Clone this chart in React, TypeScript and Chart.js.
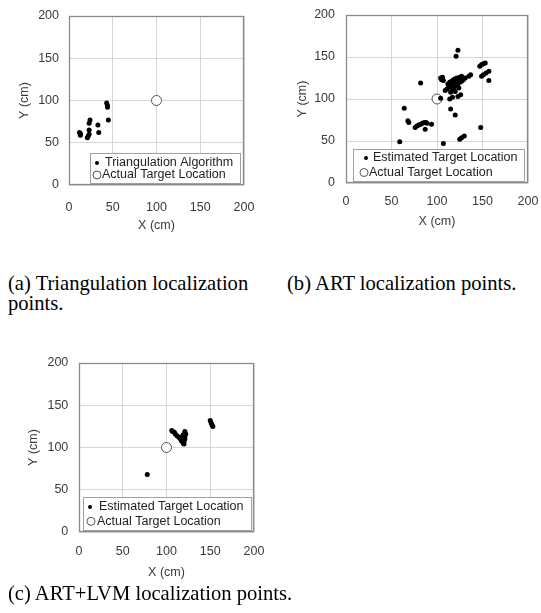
import React, { useEffect, useRef } from "react";
import { Chart, registerables } from "chart.js";
Chart.register(...registerables);

// ---------- data ----------
const AXIS_MIN = 0;
const AXIS_MAX = 200;
const AXIS_STEP = 50;
const X_TITLE = "X (cm)";
const Y_TITLE = "Y (cm)";

const LABEL_TRI = "Triangulation Algorithm";
const LABEL_EST = "Estimated Target Location";
const LABEL_ACTUAL = "Actual Target Location";

const ACTUAL_X = [100];
const ACTUAL_Y = [100];

// (a) triangulation
const A_X = [12, 13, 13, 21, 22, 23, 23, 23, 24, 33, 34, 43, 44, 44, 45];
const A_Y = [62, 61, 59, 56, 58, 60, 65, 73, 77, 71, 62, 97, 94, 92, 77];

// (b) ART
const B_X = [
  123, 121, 82, 64, 68, 69,
  76, 78, 80, 82, 84, 86, 88, 89, 87, 94, 59, 107,
  115, 120, 125, 127, 130, 148,
  147, 149, 151, 153, 149, 151, 154, 157, 157,
  104, 105, 106, 107,
  109, 111, 113, 115, 117, 119, 121, 123, 125, 127,
  112, 114, 116, 118, 120, 122,
  117, 119, 121, 123, 125, 127, 129, 131,
  115, 118, 120, 124, 122, 126, 135, 137,
  104, 114, 117, 123, 126,
];
const B_Y = [
  158, 151, 119, 89, 74, 72,
  66, 68, 69, 70, 71, 72, 72, 71, 64, 70, 49, 47,
  88, 81, 52, 54, 56, 66,
  139, 141, 142, 143, 127, 129, 131, 133, 122,
  125, 123, 126, 122,
  110, 112, 114, 116, 118, 120, 122, 124, 126, 127,
  118, 120, 121, 123, 124, 125,
  112, 114, 116, 118, 120, 121, 123, 125,
  108, 110, 109, 113, 120, 122, 127, 129,
  101, 100, 102, 103, 105,
];

// (c) ART+LVM
const C_X = [
  78, 150, 151, 152, 153,
  106, 107, 109, 110, 112, 114, 116, 117, 119,
  121, 122, 121, 121, 120, 120, 119, 118, 120,
];
const C_Y = [
  68, 132, 129, 127, 125,
  120, 119, 118, 116, 114, 112, 110, 108, 105,
  119, 116, 113, 110, 107, 104, 115, 113, 112,
];

const CAPTION_A = "(a) Triangulation localization points.";
const CAPTION_B = "(b) ART localization points.";
const CAPTION_C = "(c) ART+LVM localization points.";

// ---------- helpers ----------
const toPoints = (xs: number[], ys: number[]) => xs.map((x, i) => ({ x, y: ys[i] }));

const SANS = '"Liberation Sans", Arial, Helvetica, sans-serif';
const SERIF = '"Liberation Serif", "Times New Roman", Times, serif';
const TEXT_COLOR = "#3a3a3a";

const plotBorder = {
  id: "plotBorder",
  beforeDatasetsDraw(chart: any) {
    const { ctx, chartArea } = chart;
    ctx.save();
    ctx.strokeStyle = "#8a8a8a";
    ctx.lineWidth = 1.3;
    ctx.strokeRect(
      Math.round(chartArea.left) + 0.5,
      Math.round(chartArea.top) + 0.5,
      Math.round(chartArea.right - chartArea.left) - 1,
      Math.round(chartArea.bottom - chartArea.top) - 1
    );
    ctx.restore();
  },
};

const boxLegend = {
  id: "boxLegend",
  afterDatasetsDraw(chart: any, _args: any, opts: any) {
    const { ctx, chartArea } = chart;
    const left = Math.round(chartArea.left + opts.insetLeft);
    const right = Math.round(chartArea.right - opts.insetRight);
    const bottom = Math.round(chartArea.bottom) - 1;
    const top = Math.round(chartArea.bottom - opts.height);
    ctx.save();
    ctx.fillStyle = "#ffffff";
    ctx.fillRect(left, top, right - left, bottom - top);
    ctx.strokeStyle = "#a0a0a0";
    ctx.lineWidth = 1;
    ctx.strokeRect(left + 0.5, top + 0.5, right - left - 1, bottom - top - 1);
    ctx.font = `${opts.fontSize}px ${SANS}`;
    ctx.textBaseline = "middle";
    ctx.textAlign = "left";
    chart.data.datasets.forEach((ds: any, i: number) => {
      const y = top + opts.lineY[i];
      const mx = left + opts.markerX[i];
      ctx.beginPath();
      if (ds.legendMarker === "dot") {
        ctx.arc(mx, y, 2, 0, Math.PI * 2);
        ctx.fillStyle = "#000";
        ctx.fill();
      } else {
        ctx.arc(mx, y, 4, 0, Math.PI * 2);
        ctx.strokeStyle = "#555";
        ctx.lineWidth = 1;
        ctx.stroke();
      }
      ctx.fillStyle = "#222";
      ctx.fillText(ds.label, left + opts.textX[i], y);
    });
    ctx.restore();
  },
};

type Geo = {
  left: number;
  top: number;
  width: number;
  height: number;
  padTop: number;
  padRight: number;
  yAxisWidth: number;
  xAxisHeight: number;
  xTickPad: number;
  yTickPad: number;
  xTitlePad: number;
  yTitlePad: number;
};

type LegendGeo = {
  insetLeft: number;
  insetRight: number;
  height: number;
  lineY: number[];
  markerX: number[];
  textX: number[];
  fontSize: number;
};

function ScatterPanel(props: {
  geo: Geo;
  legend: LegendGeo;
  estLabel: string;
  estX: number[];
  estY: number[];
}) {
  const ref = useRef<HTMLCanvasElement | null>(null);
  const { geo, legend, estLabel, estX, estY } = props;

  useEffect(() => {
    if (!ref.current) return;
    const tickFont = { family: SANS, size: 12.5 };
    const chart = new Chart(ref.current, {
      type: "scatter",
      data: {
        datasets: [
          {
            label: estLabel,
            data: toPoints(estX, estY),
            backgroundColor: "#000000",
            borderColor: "#000000",
            borderWidth: 0,
            pointRadius: 2.5,
            legendMarker: "dot",
          } as any,
          {
            label: LABEL_ACTUAL,
            data: toPoints(ACTUAL_X, ACTUAL_Y),
            backgroundColor: "rgba(255,255,255,0.9)",
            borderColor: "#555555",
            borderWidth: 1,
            pointRadius: 5,
            legendMarker: "ring",
          } as any,
        ],
      },
      options: {
        responsive: false,
        animation: false,
        devicePixelRatio: 1,
        layout: {
          padding: { top: geo.padTop, right: geo.padRight, bottom: 0, left: 0 },
        },
        plugins: {
          legend: { display: false },
          tooltip: { enabled: false },
          boxLegend: legend,
        } as any,
        scales: {
          x: {
            type: "linear",
            position: "bottom",
            min: AXIS_MIN,
            max: AXIS_MAX,
            ticks: { stepSize: AXIS_STEP, color: TEXT_COLOR, font: tickFont, padding: geo.xTickPad },
            grid: { color: "#d6d6d6", drawTicks: false },
            border: { display: false },
            title: {
              display: true,
              text: X_TITLE,
              color: TEXT_COLOR,
              font: tickFont,
              padding: { top: 0, bottom: geo.xTitlePad },
            },
            afterFit: (s: any) => {
              s.height = geo.xAxisHeight;
              s.paddingLeft = 0;
              s.paddingRight = 0;
            },
          },
          y: {
            type: "linear",
            position: "left",
            min: AXIS_MIN,
            max: AXIS_MAX,
            ticks: { stepSize: AXIS_STEP, color: TEXT_COLOR, font: tickFont, padding: geo.yTickPad },
            grid: { color: "#d6d6d6", drawTicks: false },
            border: { display: false },
            title: {
              display: true,
              text: Y_TITLE,
              color: TEXT_COLOR,
              font: tickFont,
              padding: { top: geo.yTitlePad, bottom: 0 },
            },
            afterFit: (s: any) => {
              s.width = geo.yAxisWidth;
              s.paddingTop = 0;
              s.paddingBottom = 0;
            },
          },
        },
      },
      plugins: [plotBorder, boxLegend],
    });
    return () => chart.destroy();
  }, []);

  return (
    <canvas
      ref={ref}
      width={geo.width}
      height={geo.height}
      style={{
        position: "absolute",
        left: geo.left,
        top: geo.top,
        width: geo.width,
        height: geo.height,
      }}
    />
  );
}

const captionStyle = (left: number, top: number, width: number): React.CSSProperties => ({
  position: "absolute",
  left,
  top,
  width,
  fontFamily: SERIF,
  fontSize: 20.6,
  lineHeight: "20px",
  color: "#000",
  whiteSpace: "normal",
});

export default function App() {
  return (
    <div style={{ position: "absolute", left: 0, top: 0, width: 541, height: 613, background: "#fff" }}>
      <ScatterPanel
        geo={{
          left: 0, top: 0, width: 270, height: 240,
          padTop: 16, padRight: 26, yAxisWidth: 69, xAxisHeight: 55,
          xTickPad: 15, yTickPad: 10, xTitlePad: 7, yTitlePad: 17.5,
        }}
        legend={{
          insetLeft: 21, insetRight: 3, height: 32,
          lineY: [10, 22], markerX: [7, 7], textX: [15, 12], fontSize: 12.5,
        }}
        estLabel={LABEL_TRI}
        estX={A_X}
        estY={A_Y}
      />
      <ScatterPanel
        geo={{
          left: 270, top: 0, width: 271, height: 240,
          padTop: 15, padRight: 13, yAxisWidth: 76, xAxisHeight: 57,
          xTickPad: 11, yTickPad: 11, xTitlePad: 10.8, yTitlePad: 24.7,
        }}
        legend={{
          insetLeft: 7, insetRight: 3, height: 34,
          lineY: [9, 23.5], markerX: [13, 11], textX: [20, 16], fontSize: 12.5,
        }}
        estLabel={LABEL_EST}
        estX={B_X}
        estY={B_Y}
      />
      <ScatterPanel
        geo={{
          left: 0, top: 320, width: 270, height: 270,
          padTop: 43, padRight: 16, yAxisWidth: 79, xAxisHeight: 58,
          xTickPad: 12, yTickPad: 10.7, xTitlePad: 9.5, yTitlePad: 26.3,
        }}
        legend={{
          insetLeft: 4, insetRight: 2, height: 35,
          lineY: [10, 24.3], markerX: [7, 8], textX: [16, 14], fontSize: 12.5,
        }}
        estLabel={LABEL_EST}
        estX={C_X}
        estY={C_Y}
      />
      <div style={captionStyle(8, 273, 262)}>{CAPTION_A}</div>
      <div style={captionStyle(287, 273, 254)}>{CAPTION_B}</div>
      <div style={captionStyle(8, 583, 400)}>{CAPTION_C}</div>
    </div>
  );
}
